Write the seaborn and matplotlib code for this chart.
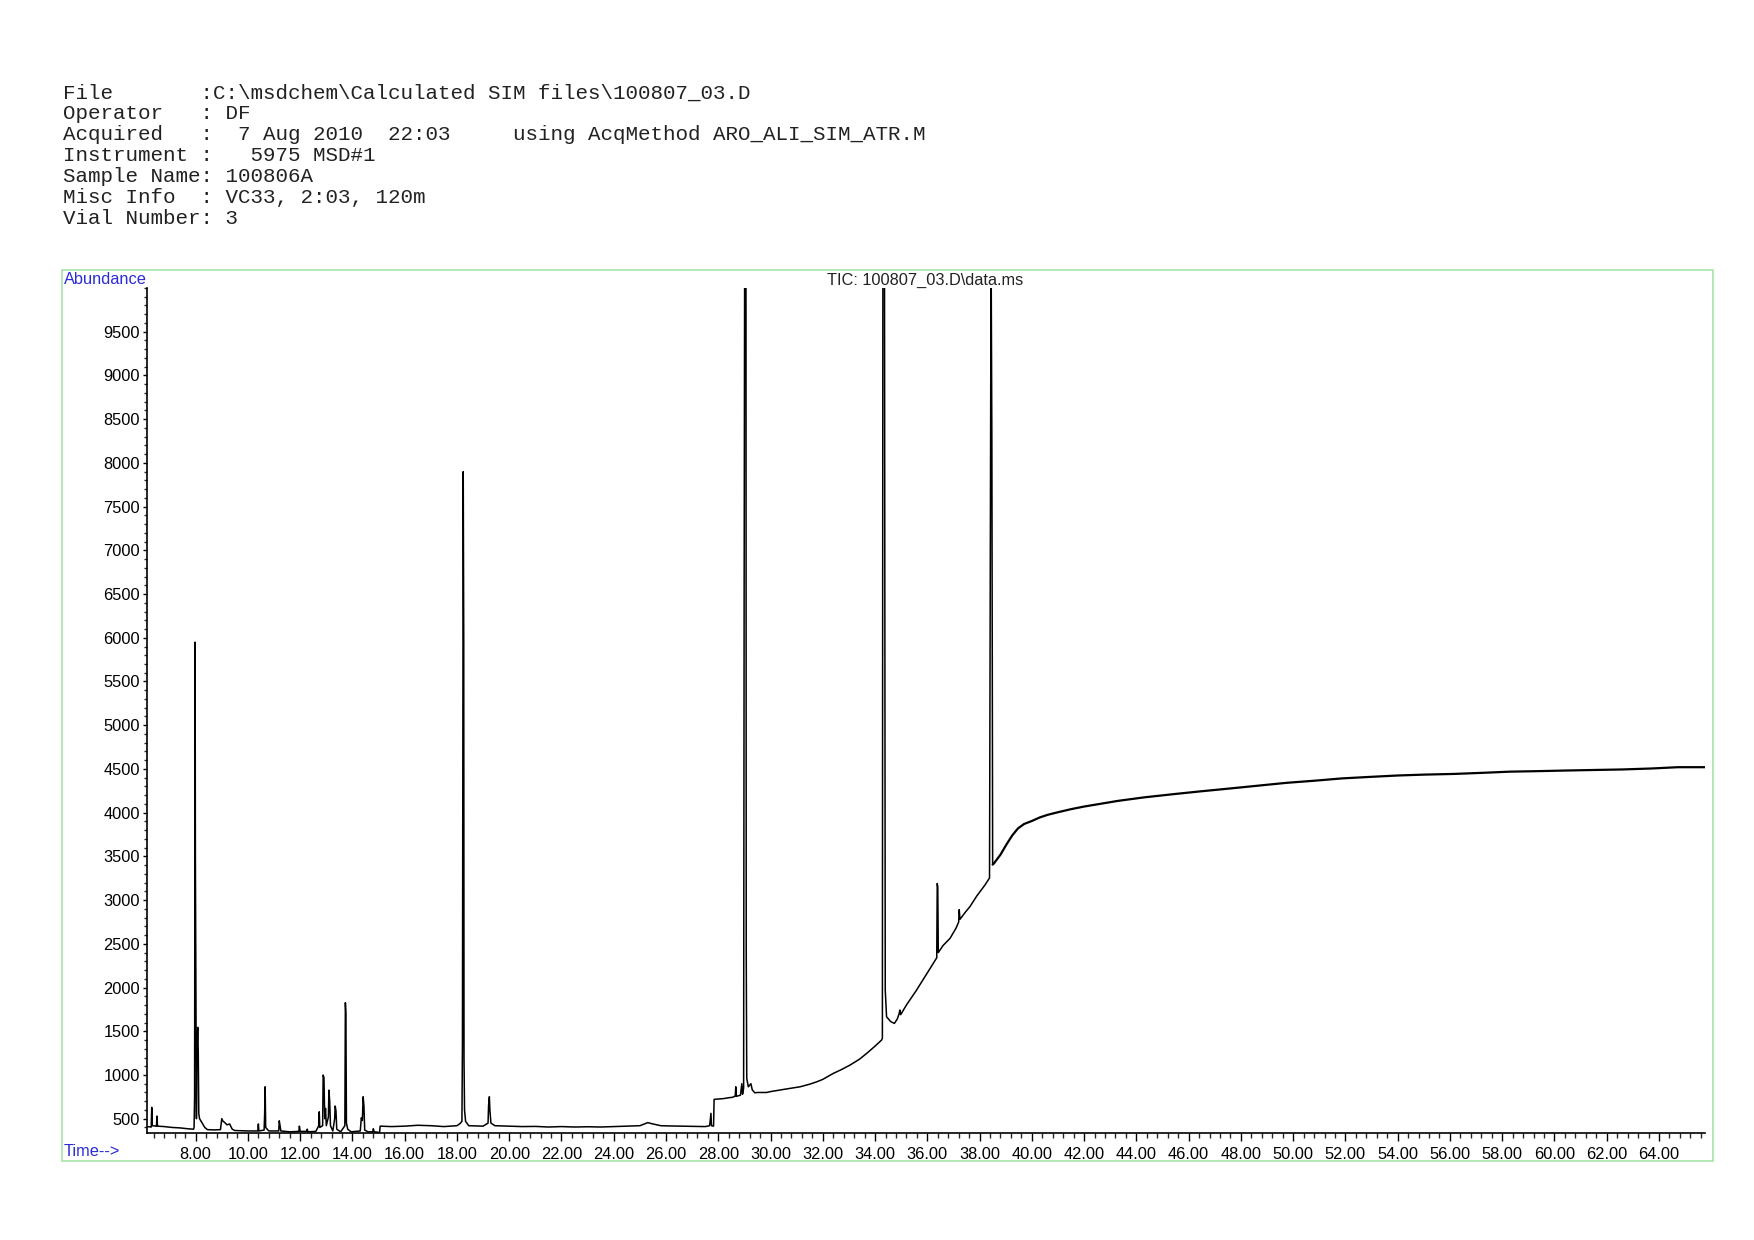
import numpy as np
import matplotlib
matplotlib.use("Agg")
import matplotlib.pyplot as plt
from matplotlib.ticker import MultipleLocator, FixedLocator, FuncFormatter
from matplotlib.patches import Rectangle
import seaborn as sns

# header block (monospaced, as printed by the instrument software)
header_lines = [
    "File       :C:\\msdchem\\Calculated SIM files\\100807_03.D",
    "Operator   : DF",
    "Acquired   :  7 Aug 2010  22:03     using AcqMethod ARO_ALI_SIM_ATR.M",
    "Instrument :   5975 MSD#1",
    "Sample Name: 100806A",
    "Misc Info  : VC33, 2:03, 120m",
    "Vial Number: 3",
]
trace_title = "TIC: 100807_03.D\\data.ms"

# TIC trace, split by region (time in min, abundance)
early_t = [6.15, 6.30, 6.32, 6.34, 6.50, 6.52, 6.54, 6.80, 7.10, 7.40, 7.70, 7.92,
           7.94, 7.96, 7.98, 7.99, 8.01, 8.03, 8.05, 8.08, 8.10, 8.12, 8.15, 8.25,
           8.35, 8.45, 8.70, 8.95, 9.00, 9.05, 9.10, 9.20, 9.30, 9.40, 9.50, 10.00,
           10.38, 10.40, 10.42, 10.62, 10.64, 10.66, 10.68, 10.80, 11.18, 11.20, 11.22,
           11.26, 11.60, 11.95, 11.97, 12.00, 12.25, 12.27, 12.30, 12.60, 12.71, 12.73,
           12.75, 12.86, 12.88, 12.91, 12.94, 12.97, 13.00, 13.08, 13.10, 13.13, 13.16,
           13.25, 13.32, 13.34, 13.37, 13.40, 13.55, 13.71, 13.73, 13.75, 13.77, 13.82,
           13.95, 14.30, 14.34, 14.38, 14.41, 14.44, 14.47, 14.60, 14.78, 14.80, 14.83,
           15.04]
early_v = [410, 405, 630, 420, 415, 530, 415, 410, 400, 395, 385, 380,
           400, 750, 5950, 3500, 2000, 500, 1266, 1545, 1266, 560, 500, 450,
           400, 375, 372, 375, 500, 470, 460, 430, 440, 380, 365, 360,
           360, 440, 360, 370, 550, 865, 400, 360, 360, 476, 440,
           360, 350, 355, 415, 355, 355, 380, 350, 355, 420, 579,
           400, 420, 999, 970, 500, 618, 420, 520, 827, 700, 420,
           360, 500, 645, 590, 380, 350, 420, 1827, 1697, 450, 380,
           350, 360, 510, 480, 751, 645, 370, 350, 350, 385, 350,
           343]

mid_t = [15.06, 15.5, 16.0, 16.5, 17.0, 17.5, 18.0, 18.12, 18.19, 18.21, 18.24, 18.26,
         18.27, 18.29, 18.33, 18.45, 19.0, 19.19, 19.21, 19.24, 19.26, 19.30, 19.45,
         20.0, 20.5, 21.0, 21.5, 22.0, 22.5, 23.0, 23.5, 24.0, 24.5, 25.0, 25.3,
         25.5, 25.8, 26.0, 26.5, 27.0, 27.5, 27.67, 27.70, 27.72, 27.74, 27.82]
mid_v = [415, 410, 415, 425, 420, 410, 420, 445, 470, 1354, 7900, 5955,
         1178, 600, 470, 420, 415, 450, 650, 751, 600, 450, 420,
         415, 410, 412, 405, 410, 405, 408, 405, 410, 415, 420, 455,
         440, 420, 418, 415, 412, 410, 420, 500, 561, 420, 415]

rise_t = [27.84, 28.0, 28.2, 28.4, 28.55, 28.65, 28.67, 28.69, 28.85, 28.90, 28.93,
          28.97, 28.99, 29.01, 29.06, 29.07, 29.09, 29.15, 29.25, 29.30, 29.40, 29.5,
          29.85, 30.0, 30.5, 31.13, 31.5, 31.77, 32.0, 32.40, 32.7, 33.04, 33.4, 33.68,
          34.0, 34.25, 34.28, 34.30, 34.36, 34.39, 34.44, 34.6, 34.74, 34.85, 34.92,
          34.95, 34.98, 35.2, 35.59, 35.9, 36.23, 36.36, 36.38, 36.40, 36.42, 36.6,
          36.87, 37.1, 37.2, 37.22, 37.25, 37.45, 37.63, 37.9, 38.2, 38.38, 38.42,
          38.44, 38.47, 38.50]
rise_v = [721, 725, 730, 740, 745, 760, 865, 755, 770, 900, 780,
          850, 6500, 10500, 10500, 2392, 961, 865, 900, 830, 796, 800,
          800, 810, 835, 865, 895, 922, 950, 1018, 1060, 1113, 1180, 1247,
          1330, 1400, 1420, 10500, 10500, 1972, 1666, 1610, 1590, 1640, 1700,
          1743, 1690, 1800, 1972, 2120, 2277, 2340, 3190, 3150, 2400, 2480,
          2563, 2680, 2750, 2890, 2780, 2860, 2925, 3050, 3170, 3253, 8245,
          10500, 8245, 3406]

plateau_t = [38.50, 38.55, 38.8, 39.03, 39.25, 39.47, 39.7, 40.0, 40.3, 40.6, 41.0,
             41.5, 42.0, 42.6, 43.3, 44.3, 45.46, 46.5, 47.6, 48.7, 49.74, 50.8, 51.88,
             53.0, 54.0, 55.0, 56.16, 57.2, 58.3, 59.4, 60.45, 61.5, 62.59, 63.7, 64.73,
             65.76]
plateau_v = [3406, 3420, 3520, 3637, 3740, 3820, 3870, 3905, 3945, 3975, 4005,
             4040, 4070, 4100, 4135, 4175, 4213, 4245, 4277, 4310, 4341, 4365, 4392,
             4410, 4425, 4435, 4443, 4455, 4469, 4475, 4482, 4488, 4494, 4505, 4520,
             4520]

time = np.array(early_t + mid_t + rise_t)
abundance = np.array(early_v + mid_v + rise_v)

sns.set_style("white")
plt.rcParams['font.family'] = ['Liberation Sans', 'DejaVu Sans']

fig = plt.figure(figsize=(17.54, 12.40), dpi=100)
ax = fig.add_axes([0.08398, 0.08653, 0.88808, 0.68121])

sns.lineplot(x=time, y=abundance, sort=False, estimator=None,
             color='black', linewidth=1.1, ax=ax)
# late plateau is a noisy band in the original, so it is drawn a bit heavier
sns.lineplot(x=plateau_t, y=plateau_v, sort=False, estimator=None,
             color='black', linewidth=1.6, ax=ax)

ax.set_xlim(6.15, 65.76)
ax.set_ylim(340, 10000)

ax.xaxis.set_major_locator(FixedLocator(np.arange(8, 65, 2)))
ax.xaxis.set_minor_locator(MultipleLocator(0.4))
ax.xaxis.set_major_formatter(FuncFormatter(lambda v, p: f"{v:.2f}"))
ax.yaxis.set_major_locator(FixedLocator(np.arange(500, 10000, 500)))
ax.yaxis.set_minor_locator(MultipleLocator(100))
ax.yaxis.set_major_formatter(FuncFormatter(lambda v, p: f"{int(v)}"))

ax.tick_params(axis='x', which='major', direction='out', length=6, width=1,
               labelsize=11.8, pad=4, colors='black', bottom=True)
ax.tick_params(axis='x', which='minor', direction='out', length=3.5, width=1, bottom=True)
ax.tick_params(axis='y', which='major', direction='out', length=3, width=1,
               labelsize=11.8, pad=2.5, colors='black', left=True)
ax.tick_params(axis='y', which='minor', direction='out', length=2, width=1, left=True)

for side in ['top', 'right']:
    ax.spines[side].set_visible(False)
for side in ['left', 'bottom']:
    ax.spines[side].set_color('black')
    ax.spines[side].set_linewidth(1.2)
ax.set_xlabel("")
ax.set_ylabel("")
ax.patch.set_alpha(0)

# light green frame around the plot area
fig.patches.append(Rectangle((0.0351, 0.0637), 0.9413, 0.7189, transform=fig.transFigure,
                             fill=False, edgecolor='#a8e4a8', linewidth=1.2, zorder=0))

blue = '#2b2bd9'
fig.text(63.5 / 1754, 1 - 279 / 1240, "Abundance", color=blue, fontsize=11.8,
         ha='left', va='center')
fig.text(63.5 / 1754, 1 - 1151 / 1240, "Time-->", color=blue, fontsize=11.8,
         ha='left', va='center')
fig.text(925 / 1754, 1 - 280 / 1240, trace_title, color='#222222', fontsize=11.8,
         ha='center', va='center')

y0 = 92.8
for i, line in enumerate(header_lines):
    fig.text(62.6 / 1754, 1 - (y0 + i * 20.9) / 1240, line, fontsize=15,
             family='Liberation Mono', color='#222222', ha='left', va='center')

fig.savefig("out.png", dpi=100, facecolor='white')
